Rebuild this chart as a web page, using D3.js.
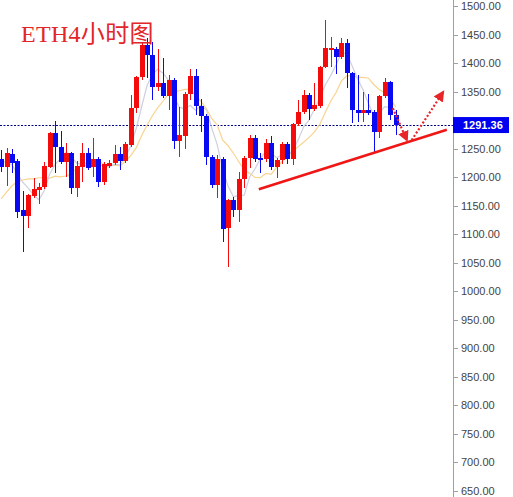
<!DOCTYPE html>
<html>
<head>
<meta charset="utf-8">
<script src="https://cdn.jsdelivr.net/npm/d3@7"></script>
<style>
  html, body { margin: 0; padding: 0; background: #fff; }
  svg { display: block; }
</style>
</head>
<body>
<svg id="chart" width="513" height="497"></svg>
<script>
// ETH 4-hour candles (oldest first)
const opens = [1232,1218,1241,1228,1142,1132,1167,1178,1183,1218,
  1277,1253,1227,1242,1181,1218,1242,1218,1232,1192,
  1220,1225,1241,1228,1256,1321,1376,1432,1414,1358,
  1365,1342,1370,1263,1272,1346,1377,1325,1307,1235,
  1186,1232,1111,1160,1142,1197,1234,1269,1234,1232,
  1260,1218,1230,1258,1232,1293,1314,1344,1319,1325,
  1393,1423,1425,1411,1435,1383,1318,1312,1318,1314,
  1279,1342,1367,1309];
const highs = [1248,1251,1249,1232,1176,1171,1199,1190,1227,1279,
  1298,1281,1260,1244,1228,1260,1251,1269,1235,1227,
  1230,1256,1253,1262,1344,1377,1437,1444,1437,1425,
  1409,1379,1374,1323,1349,1390,1390,1337,1311,1239,
  1239,1235,1162,1165,1209,1237,1274,1274,1242,1267,
  1272,1234,1262,1262,1295,1335,1353,1348,1365,1395,
  1475,1446,1428,1444,1442,1384,1379,1349,1346,1318,
  1344,1374,1369,1318];
const lows = [1209,1185,1207,1128,1069,1111,1164,1153,1179,1216,
  1207,1223,1200,1171,1165,1192,1213,1200,1183,1186,
  1216,1221,1213,1225,1253,1312,1370,1374,1335,1351,
  1339,1318,1249,1235,1249,1335,1309,1279,1221,1181,
  1164,1086,1043,1130,1121,1181,1216,1227,1207,1227,
  1213,1199,1223,1223,1221,1290,1311,1300,1316,1321,
  1391,1393,1381,1407,1356,1295,1297,1297,1309,1244,
  1269,1339,1300,1274];
const closes = [1218,1242,1225,1139,1132,1169,1179,1183,1220,1277,
  1253,1227,1242,1181,1220,1242,1216,1232,1192,1223,
  1225,1241,1228,1258,1321,1376,1432,1414,1358,1365,
  1342,1370,1263,1274,1346,1377,1325,1307,1235,1186,
  1232,1109,1160,1142,1197,1234,1269,1232,1230,1260,
  1218,1230,1258,1232,1293,1314,1344,1319,1326,1393,
  1426,1426,1411,1435,1383,1318,1312,1318,1312,1279,
  1342,1367,1309,1291.36];

// moving-average values before the window is full (carried over from earlier bars)
const ma5Lead = [1228, 1226, 1222, 1206];
const ma10Lead = [1162, 1174, 1185, 1192, 1195, 1197, 1197, 1199, 1199];

const priceTicks = d3.range(650, 1501, 50);
const lastPrice = 1291.36;
const title = "ETH4小时图";

// hand-drawn annotations, in (bar index, price)
const trendLine = [[47.7, 1179], [82.5, 1283]];
const arrowDown = [[72.5, 1321], [75.1, 1265]];
const arrowUp = [[76.0, 1265], [81.8, 1349]];

const UP = "#f40c0c", DOWN = "#0a0af2";

const svg = d3.select("#chart");
const axisX = 453;

const x = d3.scaleLinear().domain([0, opens.length - 1]).range([1.1, 395.5]);
const y = d3.scaleLinear().domain([650, 1500]).range([491, 6]);

const bars = opens.map((o, i) => ({ i, o, h: highs[i], l: lows[i], c: closes[i] }));

function rolling(n, lead) {
  return closes.map((c, i) => i < n - 1 ? lead[i] : d3.mean(closes.slice(i - n + 1, i + 1)));
}
const ma5 = rolling(5, ma5Lead);
const ma10 = rolling(10, ma10Lead);

// last-price guide
svg.append("line")
  .attr("x1", 0).attr("x2", axisX)
  .attr("y1", Math.round(y(lastPrice)) + 0.5).attr("y2", Math.round(y(lastPrice)) + 0.5)
  .attr("stroke", "#000080").attr("stroke-width", 1)
  .attr("stroke-dasharray", "2,1.5");

// moving averages
const maLine = d3.line().x((d, i) => x(i)).y(d => y(d)).curve(d3.curveLinear);
svg.append("path").datum(ma10).attr("d", maLine)
  .attr("fill", "none").attr("stroke", "#f8d48e").attr("stroke-width", 1.2);
svg.append("path").datum(ma5).attr("d", maLine)
  .attr("fill", "none").attr("stroke", "#cfcfe0").attr("stroke-width", 1.2);

// candles
const bw = 5;
const g = svg.append("g").attr("shape-rendering", "crispEdges");
g.selectAll("line.wick").data(bars).join("line")
  .attr("class", "wick")
  .attr("x1", d => Math.round(x(d.i)) + 0.5).attr("x2", d => Math.round(x(d.i)) + 0.5)
  .attr("y1", d => y(d.h)).attr("y2", d => y(d.l))
  .attr("stroke", d => d.c >= d.o ? UP : DOWN).attr("stroke-width", 1);
g.selectAll("rect.body").data(bars).join("rect")
  .attr("class", "body")
  .attr("x", d => Math.round(x(d.i)) - 2)
  .attr("width", bw)
  .attr("y", d => y(Math.max(d.o, d.c)))
  .attr("height", d => Math.max(1.5, Math.abs(y(d.o) - y(d.c))))
  .attr("fill", d => d.c >= d.o ? UP : DOWN);

// price axis
const ly = y(lastPrice);
const axis = svg.append("g");
axis.append("line").attr("x1", axisX + 0.5).attr("x2", axisX + 0.5)
  .attr("y1", 0).attr("y2", 497).attr("stroke", "#a0a0a0");
const tick = axis.selectAll("g.tick").data(priceTicks).join("g")
  .attr("class", "tick")
  .attr("transform", d => `translate(0,${Math.round(y(d)) + 0.5})`);
tick.append("line").attr("x1", axisX).attr("x2", axisX + 5)
  .attr("stroke", "#a0a0a0");
// labels hidden behind the last-price tag are left out
tick.filter(d => Math.abs(y(d) - ly) > 12).append("text")
  .attr("x", axisX + 8).attr("dy", "0.35em")
  .attr("font-family", "Liberation Sans, Arial, sans-serif")
  .attr("font-size", 11).attr("fill", "#444")
  .text(d => d3.format(".2f")(d));

// last-price tag
svg.append("rect").attr("x", axisX).attr("y", ly - 8).attr("width", 56).attr("height", 16)
  .attr("fill", "#0000f0");
svg.append("text").attr("x", axisX + 10).attr("y", ly).attr("dy", "0.36em")
  .attr("font-family", "Liberation Sans, Arial, sans-serif")
  .attr("font-size", 11).attr("font-weight", "bold").attr("fill", "#fff")
  .text(d3.format(".2f")(lastPrice));

// annotations
const defs = svg.append("defs");
defs.append("marker").attr("id", "head")
  .attr("viewBox", "0 0 10 10").attr("refX", 8).attr("refY", 5)
  .attr("markerUnits", "userSpaceOnUse")
  .attr("markerWidth", 11).attr("markerHeight", 11)
  .attr("orient", "auto")
  .append("path").attr("d", "M0,0 L10,5 L0,10 Z").attr("fill", "#e8262a");

const pt = d3.line().x(d => x(d[0])).y(d => y(d[1]));
svg.append("path").datum(trendLine).attr("d", pt)
  .attr("stroke", "#f01616").attr("stroke-width", 2.6).attr("fill", "none");
[arrowDown, arrowUp].forEach(a => {
  svg.append("path").datum(a).attr("d", pt)
    .attr("stroke", "#e8262a").attr("stroke-width", 2.2)
    .attr("stroke-dasharray", "2,2").attr("fill", "none")
    .attr("marker-end", "url(#head)");
});

// title
svg.append("text").attr("x", 21).attr("y", 42)
  .attr("font-family", "Liberation Serif, 'Times New Roman', 'Noto Sans CJK SC', serif")
  .attr("font-size", 24).attr("letter-spacing", 0.3).attr("fill", "#e2262a")
  .text(title);
</script>
</body>
</html>
